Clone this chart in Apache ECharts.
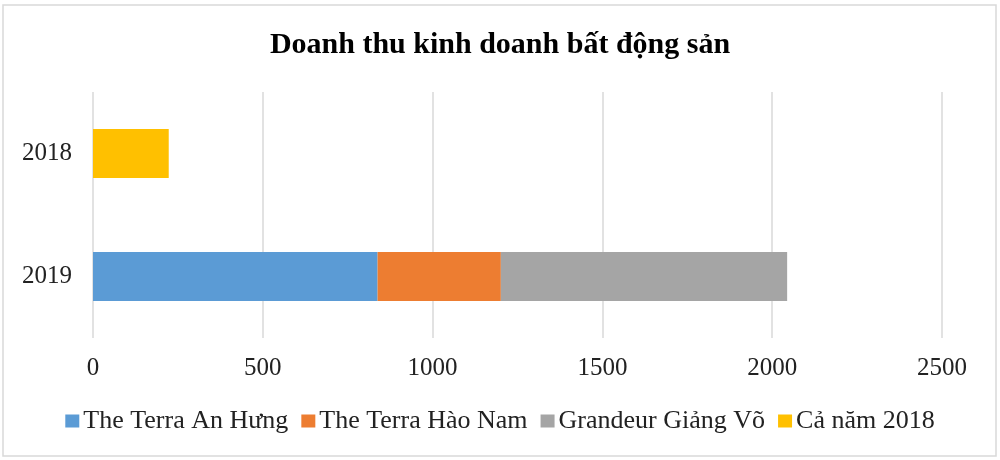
<!DOCTYPE html>
<html>
<head>
<meta charset="utf-8">
<script src="https://cdn.jsdelivr.net/npm/echarts@6/dist/echarts.min.js"></script>
<style>
  html, body { margin: 0; padding: 0; background: #fff; }
  #main { width: 1000px; height: 460px; }
</style>
</head>
<body>
<div id="main"></div>
<script>
// du lieu doc tu hinh
var years = ['2019', '2018'];
var anHung = [838, 0];
var haoNam = [363, 0];
var giangVo = [843, 0];
var caNam2018 = [0, 223];
var xTicks = [0, 500, 1000, 1500, 2000, 2500];

var seriesNames = ['The Terra An Hưng', 'The Terra Hào Nam', 'Grandeur Giảng Võ', 'Cả năm 2018'];
var seriesData = [anHung, haoNam, giangVo, caNam2018];
var colors = ['#5B9BD5', '#ED7D31', '#A5A5A5', '#FFC000'];

var font = '"Liberation Serif", "Times New Roman", serif';

var myChart = echarts.init(document.getElementById('main'));

var option = {
  backgroundColor: '#fff',
  animation: false,
  title: {
    text: 'Doanh thu kinh doanh bất động sản',
    left: 'center',
    top: 25,
    textStyle: { fontFamily: font, fontSize: 30, fontWeight: 'bold', color: '#000' }
  },
  legend: {
    data: seriesNames,
    bottom: 21,
    left: 'center',
    itemWidth: 14,
    itemHeight: 13,
    itemGap: 13,
    icon: 'rect',
    textStyle: { fontFamily: font, fontSize: 26, color: '#222', padding: [0, 0, 0, -1] }
  },
  grid: { left: 93, right: 58, top: 92, bottom: 122, containLabel: false },
  xAxis: {
    type: 'value',
    min: xTicks[0],
    max: xTicks[xTicks.length - 1],
    interval: 500,
    axisLine: { show: false },
    axisTick: { show: false },
    splitLine: { lineStyle: { color: '#D9D9D9', width: 1.5 } },
    axisLabel: {
      fontFamily: font, fontSize: 25, color: '#222', margin: 18,
      formatter: function (v) { return String(v); }
    }
  },
  yAxis: {
    type: 'category',
    data: years,
    axisLine: { show: false },
    axisTick: { show: false },
    axisLabel: { fontFamily: font, fontSize: 25, color: '#222', margin: 21 }
  },
  series: seriesNames.map(function (n, i) {
    return {
      name: n,
      type: 'bar',
      stack: 'tong',
      barWidth: '40%',
      data: seriesData[i],
      itemStyle: { color: colors[i] }
    };
  }),
  graphic: [{
    type: 'rect',
    shape: { x: 3, y: 5, width: 993, height: 451 },
    style: { fill: 'none', stroke: '#D9D9D9', lineWidth: 1.5 },
    silent: true,
    z: -1
  }]
};

myChart.setOption(option);
</script>
</body>
</html>
